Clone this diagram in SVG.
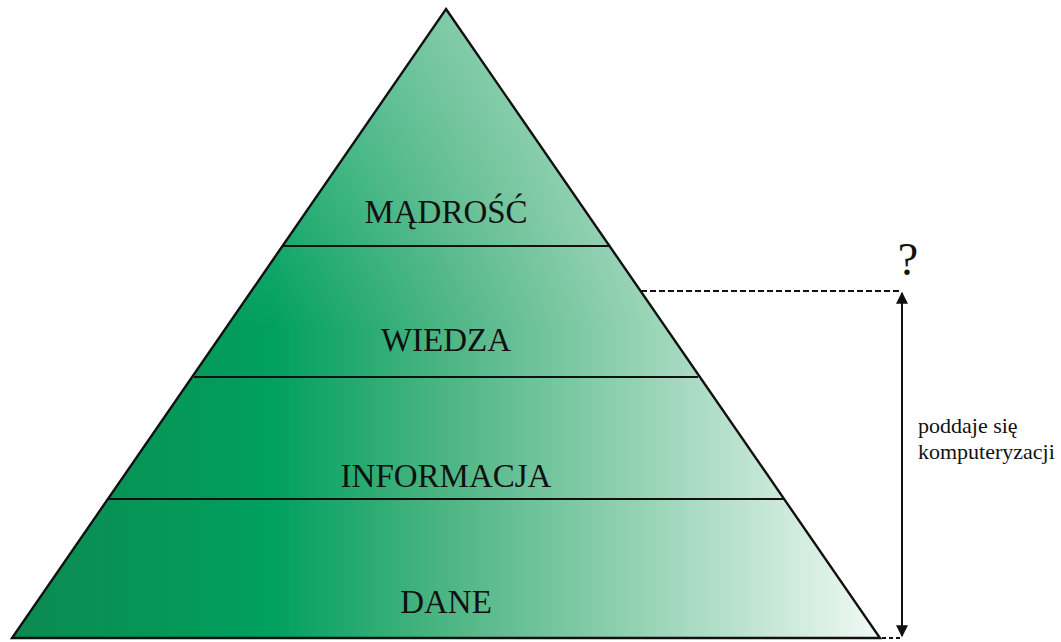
<svg xmlns="http://www.w3.org/2000/svg" width="1061" height="642" viewBox="0 0 1061 642">
<defs>
<linearGradient id="g" gradientUnits="userSpaceOnUse" x1="12" y1="0" x2="880" y2="0">
<stop offset="0" stop-color="#0c8a50"/>
<stop offset="0.3" stop-color="#00a05e"/>
<stop offset="0.5" stop-color="#4db584"/>
<stop offset="0.75" stop-color="#9ed6ba"/>
<stop offset="1" stop-color="#f0f9f4"/>
</linearGradient>
<linearGradient id="v" gradientUnits="userSpaceOnUse" x1="0" y1="9" x2="0" y2="330">
<stop offset="0" stop-color="#fff" stop-opacity="0.3"/>
<stop offset="1" stop-color="#fff" stop-opacity="0"/>
</linearGradient>
<marker id="ah" viewBox="0 0 10 10" refX="9" refY="5" markerWidth="14" markerHeight="12" markerUnits="userSpaceOnUse" orient="auto-start-reverse">
<path d="M0,0 L10,5 L0,10 z" fill="#111"/>
</marker>
<style>
.lbl{font-family:"Liberation Serif","Times New Roman",serif;font-size:33px;fill:#111;text-anchor:middle}
.side{font-family:"Liberation Serif","Times New Roman",serif;font-size:22px;fill:#111}
.band{stroke:#111;stroke-width:2.2;fill:none}
</style>
</defs>
<rect width="1061" height="642" fill="#fff"/>
<g id="pyramid">
<polygon points="446,9 880,638 12,638" fill="url(#g)"/>
<polygon points="446,9 880,638 12,638" fill="url(#v)" stroke="#111" stroke-width="2.4" stroke-linejoin="miter"/>
</g>
<g id="bands">
<line class="band" x1="283" y1="246" x2="609" y2="246"/>
<line class="band" x1="194" y1="377" x2="698" y2="377"/>
<line class="band" x1="108" y1="499" x2="784" y2="499"/>
</g>
<g id="madrosc"><text class="lbl" x="446" y="223">MĄDROŚĆ</text></g>
<g id="wiedza"><text class="lbl" x="446" y="351">WIEDZA</text></g>
<g id="informacja"><text class="lbl" x="446" y="487">INFORMACJA</text></g>
<g id="dane"><text class="lbl" x="446" y="613">DANE</text></g>
<g id="connectors">
<line x1="641" y1="291" x2="900" y2="291" stroke="#111" stroke-width="2" stroke-dasharray="6,3"/>
<line x1="882" y1="638" x2="900" y2="638" stroke="#111" stroke-width="2" stroke-dasharray="4,3"/>
<line x1="902" y1="293" x2="902" y2="636" stroke="#111" stroke-width="2" marker-start="url(#ah)" marker-end="url(#ah)"/>
</g>
<g id="question"><text x="908" y="275" style="font-family:'Liberation Serif','Times New Roman',serif;font-size:46px;fill:#111;text-anchor:middle">?</text></g>
<g id="note">
<text class="side" x="918" y="433">poddaje się</text>
<text class="side" x="918" y="459">komputeryzacji</text>
</g>
</svg>
